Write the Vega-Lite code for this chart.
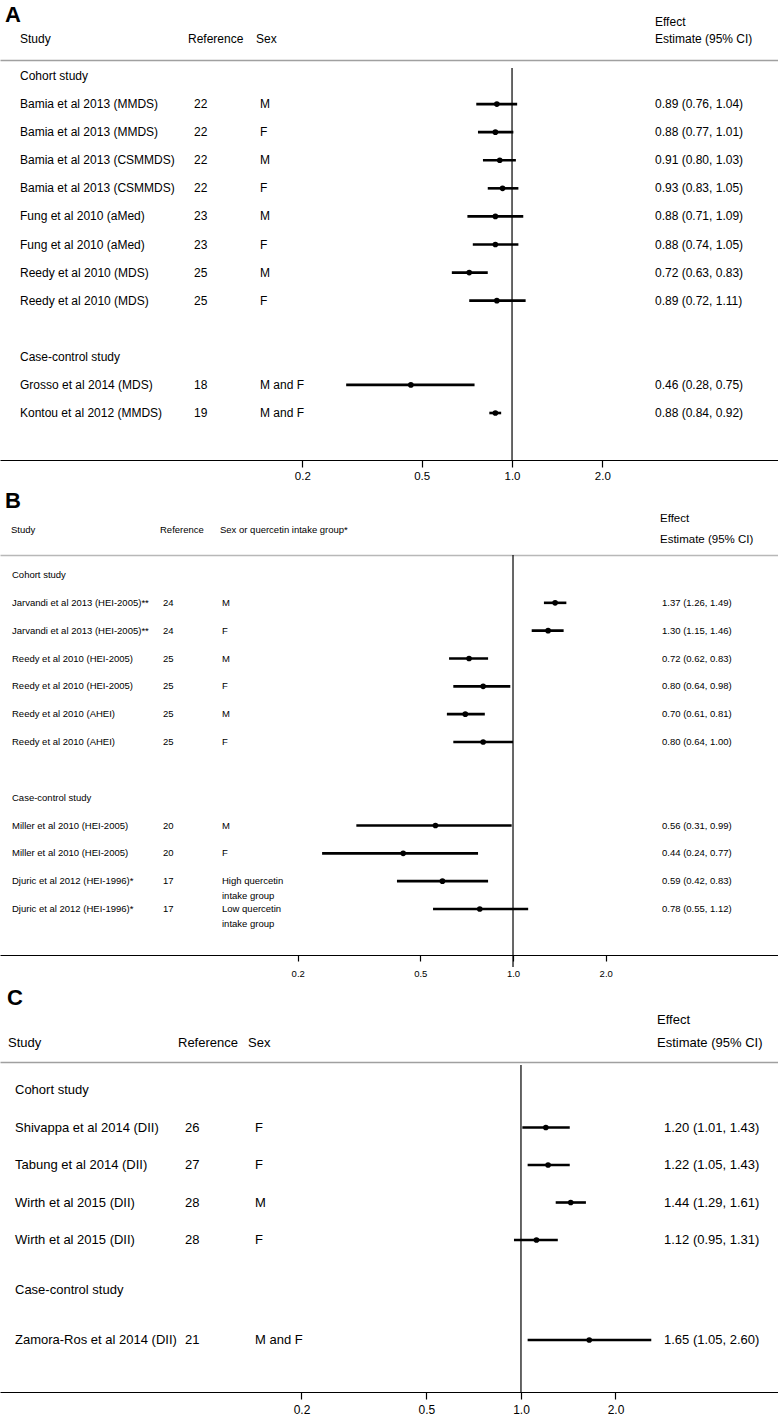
{
  "$schema": "https://vega.github.io/schema/vega-lite/v6.json",
  "padding": {"top": 4, "left": 0, "right": 0, "bottom": 0},
  "bounds": "flush",
  "spacing": 95,
  "config": {"view": {"stroke": null}, "font": "Liberation Sans", "text": {"color": "black"}, "axis": {"grid": false}},
  "datasets": {
    "cols": [{"key": "study", "slot": 1}, {"key": "ref", "slot": 2}, {"key": "sex", "slot": 3}, {"key": "ci", "slot": 4}],
    "hdrA": [{"h": "A", "slot": 0, "line": 0}, {"h": "Study", "slot": 1, "line": 2}, {"h": "Reference", "slot": 2, "line": 2}, {"h": "Sex", "slot": 3, "line": 2}, {"h": "Effect", "slot": 4, "line": 1}, {"h": "Estimate (95% CI)", "slot": 4, "line": 2}],
    "hdrB": [{"h": "B", "slot": 0, "line": 0}, {"h": "Study", "slot": 1, "line": 2}, {"h": "Reference", "slot": 2, "line": 2}, {"h": "Sex or quercetin intake group*", "slot": 3, "line": 2}, {"h": "Effect", "slot": 4, "line": 1}, {"h": "Estimate (95% CI)", "slot": 4, "line": 3}],
    "hdrC": [{"h": "C", "slot": 0, "line": 0}, {"h": "Study", "slot": 1, "line": 2}, {"h": "Reference", "slot": 2, "line": 2}, {"h": "Sex", "slot": 3, "line": 2}, {"h": "Effect", "slot": 4, "line": 1}, {"h": "Estimate (95% CI)", "slot": 4, "line": 2}],
    "A": [
      {"id": "A0", "study": "Cohort study"},
      {"id": "A1", "study": "Bamia et al 2013 (MMDS)", "ref": "22", "sex": "M", "ci": "0.89 (0.76, 1.04)", "est": 0.89, "lo": 0.76, "hi": 1.04},
      {"id": "A2", "study": "Bamia et al 2013 (MMDS)", "ref": "22", "sex": "F", "ci": "0.88 (0.77, 1.01)", "est": 0.88, "lo": 0.77, "hi": 1.01},
      {"id": "A3", "study": "Bamia et al 2013 (CSMMDS)", "ref": "22", "sex": "M", "ci": "0.91 (0.80, 1.03)", "est": 0.91, "lo": 0.80, "hi": 1.03},
      {"id": "A4", "study": "Bamia et al 2013 (CSMMDS)", "ref": "22", "sex": "F", "ci": "0.93 (0.83, 1.05)", "est": 0.93, "lo": 0.83, "hi": 1.05},
      {"id": "A5", "study": "Fung et al 2010 (aMed)", "ref": "23", "sex": "M", "ci": "0.88 (0.71, 1.09)", "est": 0.88, "lo": 0.71, "hi": 1.09},
      {"id": "A6", "study": "Fung et al 2010 (aMed)", "ref": "23", "sex": "F", "ci": "0.88 (0.74, 1.05)", "est": 0.88, "lo": 0.74, "hi": 1.05},
      {"id": "A7", "study": "Reedy et al 2010 (MDS)", "ref": "25", "sex": "M", "ci": "0.72 (0.63, 0.83)", "est": 0.72, "lo": 0.63, "hi": 0.83},
      {"id": "A8", "study": "Reedy et al 2010 (MDS)", "ref": "25", "sex": "F", "ci": "0.89 (0.72, 1.11)", "est": 0.89, "lo": 0.72, "hi": 1.11},
      {"id": "A9", "study": "Case-control study"},
      {"id": "A10", "study": "Grosso et al 2014 (MDS)", "ref": "18", "sex": "M and F", "ci": "0.46 (0.28, 0.75)", "est": 0.46, "lo": 0.28, "hi": 0.75},
      {"id": "A11", "study": "Kontou et al 2012 (MMDS)", "ref": "19", "sex": "M and F", "ci": "0.88 (0.84, 0.92)", "est": 0.88, "lo": 0.84, "hi": 0.92}
    ],
    "B": [
      {"id": "B0", "study": "Cohort study"},
      {"id": "B1", "study": "Jarvandi et al 2013 (HEI-2005)**", "ref": "24", "sex": "M", "ci": "1.37 (1.26, 1.49)", "est": 1.37, "lo": 1.26, "hi": 1.49},
      {"id": "B2", "study": "Jarvandi et al 2013 (HEI-2005)**", "ref": "24", "sex": "F", "ci": "1.30 (1.15, 1.46)", "est": 1.30, "lo": 1.15, "hi": 1.46},
      {"id": "B3", "study": "Reedy et al 2010 (HEI-2005)", "ref": "25", "sex": "M", "ci": "0.72 (0.62, 0.83)", "est": 0.72, "lo": 0.62, "hi": 0.83},
      {"id": "B4", "study": "Reedy et al 2010 (HEI-2005)", "ref": "25", "sex": "F", "ci": "0.80 (0.64, 0.98)", "est": 0.80, "lo": 0.64, "hi": 0.98},
      {"id": "B5", "study": "Reedy et al 2010 (AHEI)", "ref": "25", "sex": "M", "ci": "0.70 (0.61, 0.81)", "est": 0.70, "lo": 0.61, "hi": 0.81},
      {"id": "B6", "study": "Reedy et al 2010 (AHEI)", "ref": "25", "sex": "F", "ci": "0.80 (0.64, 1.00)", "est": 0.80, "lo": 0.64, "hi": 1.00},
      {"id": "B7", "study": "Case-control study"},
      {"id": "B8", "study": "Miller et al 2010 (HEI-2005)", "ref": "20", "sex": "M", "ci": "0.56 (0.31, 0.99)", "est": 0.56, "lo": 0.31, "hi": 0.99},
      {"id": "B9", "study": "Miller et al 2010 (HEI-2005)", "ref": "20", "sex": "F", "ci": "0.44 (0.24, 0.77)", "est": 0.44, "lo": 0.24, "hi": 0.77},
      {"id": "B10", "study": "Djuric et al 2012 (HEI-1996)*", "ref": "17", "sex": "High quercetin\nintake group", "ci": "0.59 (0.42, 0.83)", "est": 0.59, "lo": 0.42, "hi": 0.83},
      {"id": "B11", "study": "Djuric et al 2012 (HEI-1996)*", "ref": "17", "sex": "Low quercetin\nintake group", "ci": "0.78 (0.55, 1.12)", "est": 0.78, "lo": 0.55, "hi": 1.12}
    ],
    "C": [
      {"id": "C0", "study": "Cohort study"},
      {"id": "C1", "study": "Shivappa et al 2014 (DII)", "ref": "26", "sex": "F", "ci": "1.20 (1.01, 1.43)", "est": 1.20, "lo": 1.01, "hi": 1.43},
      {"id": "C2", "study": "Tabung et al 2014 (DII)", "ref": "27", "sex": "F", "ci": "1.22 (1.05, 1.43)", "est": 1.22, "lo": 1.05, "hi": 1.43},
      {"id": "C3", "study": "Wirth et al 2015 (DII)", "ref": "28", "sex": "M", "ci": "1.44 (1.29, 1.61)", "est": 1.44, "lo": 1.29, "hi": 1.61},
      {"id": "C4", "study": "Wirth et al 2015 (DII)", "ref": "28", "sex": "F", "ci": "1.12 (0.95, 1.31)", "est": 1.12, "lo": 0.95, "hi": 1.31},
      {"id": "C5", "study": "Case-control study"},
      {"id": "C6", "study": "Zamora-Ros et al 2014 (DII)", "ref": "21", "sex": "M and F", "ci": "1.65 (1.05, 2.60)", "est": 1.65, "lo": 1.05, "hi": 2.60}
    ]
  },
  "vconcat": [
    {
      "width": 778, "height": 400,
      "resolve": {"scale": {"x": "independent", "y": "independent"}},
      "layer": [
        {
          "data": {"name": "hdrA"},
          "encoding": {
            "x": {"field": "slot", "type": "quantitative", "scale": {"domain": [0, 1, 2, 3, 4], "range": [5, 20, 188, 256, 655], "zero": false, "nice": false}, "axis": null},
            "y": {"field": "line", "type": "quantitative", "scale": {"domain": [0, 1, 2], "range": [-45, -38, -21], "zero": false, "nice": false}, "axis": null},
            "text": {"field": "h"}
          },
          "layer": [
            {"transform": [{"filter": "datum.line == 0"}], "mark": {"type": "text", "align": "left", "baseline": "middle", "fontSize": 22, "fontWeight": "bold", "color": "black"}},
            {"transform": [{"filter": "datum.line > 0"}], "mark": {"type": "text", "align": "left", "baseline": "middle", "fontSize": 12, "color": "black"}}
          ]
        },
        {
          "data": {"name": "A"},
          "transform": [
            {"fold": ["study", "ref", "sex", "ci"], "as": ["key", "txt"]},
            {"filter": "isValid(datum.txt)"},
            {"lookup": "key", "from": {"data": {"name": "cols"}, "key": "key", "fields": ["slot"]}}
          ],
          "mark": {"type": "text", "align": "left", "baseline": "middle", "fontSize": 12, "color": "black"},
          "encoding": {
            "x": {"field": "slot", "type": "quantitative", "scale": {"domain": [1, 2, 3, 4], "range": [20, 194, 260, 655], "zero": false, "nice": false}, "axis": null},
            "y": {"field": "id", "type": "nominal", "scale": {"type": "point", "domain": ["A0", "A1", "A2", "A3", "A4", "A5", "A6", "A7", "A8", "Agap", "A9", "A10", "A11"], "range": [16, 353], "padding": 0}, "axis": null},
            "text": {"field": "txt"}
          }
        },
        {
          "data": {"name": "A"},
          "transform": [{"filter": "isValid(datum.est)"}],
          "layer": [
            {
              "data": {"values": [{"null_effect": 1}]},
              "mark": {"type": "rule", "color": "black", "strokeWidth": 1.2, "yOffset": 8},
              "encoding": {
                "x": {"field": "null_effect", "type": "quantitative", "scale": {"type": "log", "domain": [0.01965, 7.7], "nice": false},
                  "axis": {"orient": "bottom", "values": [0.2, 0.5, 1, 2], "format": ".1f", "title": null, "grid": false, "domainColor": "black", "domainWidth": 1.2, "tickColor": "black", "tickWidth": 1.2, "tickSize": 7, "labelFontSize": 11.5, "labelColor": "black", "labelPadding": 3, "labelFlush": false, "labelOverlap": false}}
              }
            },
            {
              "mark": {"type": "rule", "color": "black", "strokeWidth": 2.6},
              "encoding": {
                "x": {"field": "lo", "type": "quantitative", "axis": {"orient": "top", "title": null, "grid": false, "ticks": false, "labels": false, "domainColor": "#a0a0a0", "domainWidth": 1.5}},
                "x2": {"field": "hi"},
                "y": {"field": "id", "type": "nominal", "scale": {"type": "point", "domain": ["A0", "A1", "A2", "A3", "A4", "A5", "A6", "A7", "A8", "Agap", "A9", "A10", "A11"], "range": [16, 353], "padding": 0}, "axis": null}
              }
            },
            {
              "mark": {"type": "point", "shape": "circle", "filled": true, "size": 32, "color": "black", "opacity": 1},
              "encoding": {
                "x": {"field": "est", "type": "quantitative", "axis": null},
                "y": {"field": "id", "type": "nominal", "axis": null}
              }
            }
          ]
        }
      ]
    },
    {
      "width": 778, "height": 412,
      "resolve": {"scale": {"x": "independent", "y": "independent"}},
      "layer": [
        {
          "data": {"name": "hdrB"},
          "encoding": {
            "x": {"field": "slot", "type": "quantitative", "scale": {"domain": [0, 1, 2, 3, 4], "range": [5, 11, 160, 220, 660], "zero": false, "nice": false}, "axis": null},
            "y": {"field": "line", "type": "quantitative", "scale": {"domain": [0, 1, 2, 3], "range": [-54, -36, -25, -15], "zero": false, "nice": false}, "axis": null},
            "text": {"field": "h"}
          },
          "layer": [
            {"transform": [{"filter": "datum.line == 0"}], "mark": {"type": "text", "align": "left", "baseline": "middle", "fontSize": 22, "fontWeight": "bold", "color": "black"}},
            {"transform": [{"filter": "datum.line > 0 && datum.slot < 4"}], "mark": {"type": "text", "align": "left", "baseline": "middle", "fontSize": 9.5, "color": "black"}},
            {"transform": [{"filter": "datum.slot == 4"}], "mark": {"type": "text", "align": "left", "baseline": "middle", "fontSize": 11.5, "color": "black"}}
          ]
        },
        {
          "data": {"name": "B"},
          "transform": [
            {"fold": ["study", "ref", "sex", "ci"], "as": ["key", "txt"]},
            {"filter": "isValid(datum.txt)"},
            {"lookup": "key", "from": {"data": {"name": "cols"}, "key": "key", "fields": ["slot"]}}
          ],
          "mark": {"type": "text", "align": "left", "baseline": "middle", "fontSize": 9.5, "color": "black", "lineBreak": "\n", "lineHeight": 15},
          "encoding": {
            "x": {"field": "slot", "type": "quantitative", "scale": {"domain": [1, 2, 3, 4], "range": [12, 163, 222, 662], "zero": false, "nice": false}, "axis": null},
            "y": {"field": "id", "type": "nominal", "scale": {"type": "point", "domain": ["B0", "B1", "B2", "B3", "B4", "B5", "B6", "Bgap", "B7", "B8", "B9", "B10", "B11"], "range": [20, 354], "padding": 0}, "axis": null},
            "text": {"field": "txt"}
          }
        },
        {
          "data": {"name": "B"},
          "transform": [{"filter": "isValid(datum.est)"}],
          "layer": [
            {
              "data": {"values": [{"null_effect": 1}]},
              "mark": {"type": "rule", "color": "black", "strokeWidth": 1.2, "y2Offset": -12},
              "encoding": {
                "x": {"field": "null_effect", "type": "quantitative", "scale": {"type": "log", "domain": [0.0216, 7.25], "nice": false},
                  "axis": {"orient": "bottom", "offset": -12, "values": [0.2, 0.5, 1, 2], "format": ".1f", "title": null, "grid": false, "domainColor": "black", "domainWidth": 1.2, "tickColor": "black", "tickWidth": 1.2, "tickSize": 6, "labelFontSize": 9.5, "labelColor": "black", "labelPadding": 7, "labelFlush": false, "labelOverlap": false}}
              }
            },
            {
              "mark": {"type": "rule", "color": "black", "strokeWidth": 2.6},
              "encoding": {
                "x": {"field": "lo", "type": "quantitative", "axis": {"orient": "top", "title": null, "grid": false, "ticks": false, "labels": false, "domainColor": "#b8b8b8", "domainWidth": 1.5}},
                "x2": {"field": "hi"},
                "y": {"field": "id", "type": "nominal", "scale": {"type": "point", "domain": ["B0", "B1", "B2", "B3", "B4", "B5", "B6", "Bgap", "B7", "B8", "B9", "B10", "B11"], "range": [20, 354], "padding": 0}, "axis": null}
              }
            },
            {
              "mark": {"type": "point", "shape": "circle", "filled": true, "size": 32, "color": "black", "opacity": 1},
              "encoding": {
                "x": {"field": "est", "type": "quantitative", "axis": null},
                "y": {"field": "id", "type": "nominal", "axis": null}
              }
            }
          ]
        }
      ]
    },
    {
      "width": 778, "height": 330,
      "resolve": {"scale": {"x": "independent", "y": "independent"}},
      "layer": [
        {
          "data": {"name": "hdrC"},
          "encoding": {
            "x": {"field": "slot", "type": "quantitative", "scale": {"domain": [0, 1, 2, 3, 4], "range": [7, 8, 178, 248, 657], "zero": false, "nice": false}, "axis": null},
            "y": {"field": "line", "type": "quantitative", "scale": {"domain": [0, 1, 2], "range": [-64, -42, -19], "zero": false, "nice": false}, "axis": null},
            "text": {"field": "h"}
          },
          "layer": [
            {"transform": [{"filter": "datum.line == 0"}], "mark": {"type": "text", "align": "left", "baseline": "middle", "fontSize": 22, "fontWeight": "bold", "color": "black"}},
            {"transform": [{"filter": "datum.line > 0"}], "mark": {"type": "text", "align": "left", "baseline": "middle", "fontSize": 13, "color": "black"}}
          ]
        },
        {
          "data": {"name": "C"},
          "transform": [
            {"fold": ["study", "ref", "sex", "ci"], "as": ["key", "txt"]},
            {"filter": "isValid(datum.txt)"},
            {"lookup": "key", "from": {"data": {"name": "cols"}, "key": "key", "fields": ["slot"]}}
          ],
          "mark": {"type": "text", "align": "left", "baseline": "middle", "fontSize": 13, "color": "black"},
          "encoding": {
            "x": {"field": "slot", "type": "quantitative", "scale": {"domain": [1, 2, 3, 4], "range": [15, 185, 255, 664], "zero": false, "nice": false}, "axis": null},
            "y": {"field": "id", "type": "nominal", "scale": {"type": "point", "domain": ["C0", "c01", "c02", "C1", "c11", "c12", "C2", "c21", "c22", "C3", "c31", "c32", "C4", "c41", "c42", "c43", "C5", "c51", "c52", "c53", "C6"], "range": [28, 278], "padding": 0}, "axis": null},
            "text": {"field": "txt"}
          }
        },
        {
          "data": {"name": "C"},
          "transform": [{"filter": "isValid(datum.est)"}],
          "layer": [
            {
              "data": {"values": [{"null_effect": 1}]},
              "mark": {"type": "rule", "color": "black", "strokeWidth": 1.2, "yOffset": 3},
              "encoding": {
                "x": {"field": "null_effect", "type": "quantitative", "scale": {"type": "log", "domain": [0.02192, 6.585], "nice": false},
                  "axis": {"orient": "bottom", "values": [0.2, 0.5, 1, 2], "format": ".1f", "title": null, "grid": false, "domainColor": "black", "domainWidth": 1.2, "tickColor": "black", "tickWidth": 1.2, "tickSize": 7, "labelFontSize": 12, "labelColor": "black", "labelPadding": 5, "labelFlush": false, "labelOverlap": false}}
              }
            },
            {
              "mark": {"type": "rule", "color": "black", "strokeWidth": 2.6},
              "encoding": {
                "x": {"field": "lo", "type": "quantitative", "axis": {"orient": "top", "title": null, "grid": false, "ticks": false, "labels": false, "domainColor": "#a0a0a0", "domainWidth": 1.5}},
                "x2": {"field": "hi"},
                "y": {"field": "id", "type": "nominal", "scale": {"type": "point", "domain": ["C0", "c01", "c02", "C1", "c11", "c12", "C2", "c21", "c22", "C3", "c31", "c32", "C4", "c41", "c42", "c43", "C5", "c51", "c52", "c53", "C6"], "range": [28, 278], "padding": 0}, "axis": null}
              }
            },
            {
              "mark": {"type": "point", "shape": "circle", "filled": true, "size": 32, "color": "black", "opacity": 1},
              "encoding": {
                "x": {"field": "est", "type": "quantitative", "axis": null},
                "y": {"field": "id", "type": "nominal", "axis": null}
              }
            }
          ]
        }
      ]
    }
  ]
}
